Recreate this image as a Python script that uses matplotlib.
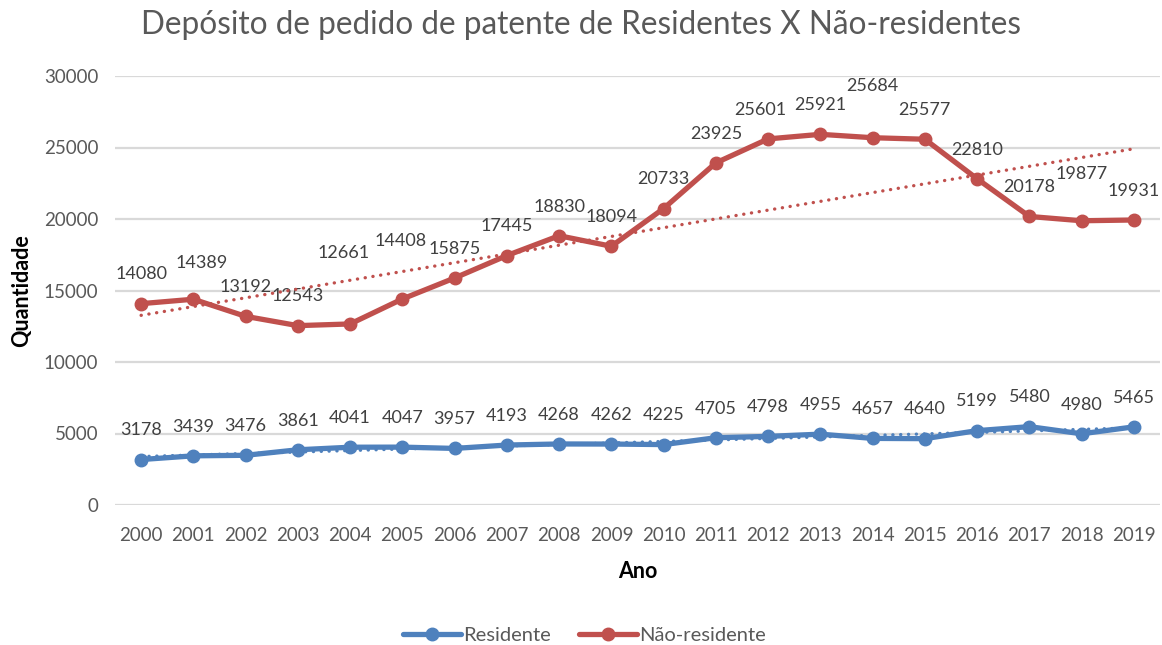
import numpy as np
import matplotlib.pyplot as plt

plt.rcParams['font.family'] = ['Lato', 'DejaVu Sans']

# dados
anos = list(range(2000, 2020))
residente = [3178, 3439, 3476, 3861, 4041, 4047, 3957, 4193, 4268, 4262,
             4225, 4705, 4798, 4955, 4657, 4640, 5199, 5480, 4980, 5465]
nao_residente = [14080, 14389, 13192, 12543, 12661, 14408, 15875, 17445, 18830, 18094,
                 20733, 23925, 25601, 25921, 25684, 25577, 22810, 20178, 19877, 19931]

azul = '#4F81BD'
vermelho = '#C0504D'
cinza = '#595959'

# deslocamento dos rótulos (pontos) que não ficam na posição padrão
ajuste_nres = {2001: (6, 26), 2004: (-5, 51), 2005: (-1, 42), 2012: (-6, 21),
               2014: (0, 37), 2018: (0, 34)}

fig = plt.figure(figsize=(11.62, 6.45), dpi=100)
ax = fig.add_axes([115 / 1162, 1 - 505 / 645, 1045 / 1162, 429 / 645])

ax.plot(anos, residente, color=azul, lw=3.8, marker='o', ms=9,
        label='Residente', zorder=3, solid_capstyle='round')
ax.plot(anos, nao_residente, color=vermelho, lw=3.8, marker='o', ms=9,
        label='Não-residente', zorder=3, solid_capstyle='round')

# linhas de tendência (linear)
x = np.array(anos)
for serie, cor in [(residente, azul), (nao_residente, vermelho)]:
    a, b = np.polyfit(x, serie, 1)
    ax.plot(x, a * x + b, color=cor, lw=2.4, ls=(0, (0.05, 2.3)),
            dash_capstyle='round', zorder=4)

for ano, v in zip(anos, residente):
    ax.annotate(str(v), (ano, v), xytext=(0, 21), textcoords='offset points',
                ha='center', va='center', fontsize=13, color='#404040')
for ano, v in zip(anos, nao_residente):
    dx, dy = ajuste_nres.get(ano, (0, 21))
    ax.annotate(str(v), (ano, v), xytext=(dx, dy), textcoords='offset points',
                ha='center', va='center', fontsize=13, color='#404040')

ax.set_xlim(1999.5, 2019.5)
ax.set_ylim(0, 30000)
ax.set_xticks(anos)
ax.set_yticks(range(0, 30001, 5000))
ax.grid(axis='y', color='#D9D9D9', lw=1.6)
ax.set_axisbelow(True)
for s in ax.spines.values():
    s.set_visible(False)
ax.tick_params(axis='both', length=0, labelsize=13.5, labelcolor=cinza)
ax.tick_params(axis='x', pad=16)
ax.tick_params(axis='y', pad=12)

ax.set_xlabel('Ano', fontsize=15.5, fontweight='bold', labelpad=12)
ax.set_ylabel('Quantidade', fontsize=15.5, fontweight='bold', labelpad=8)

fig.text(0.5, 1 - 25 / 645, 'Depósito de pedido de patente de Residentes X Não-residentes',
         ha='center', va='center', fontsize=22.7, color=cinza)

fig.legend(loc='center', bbox_to_anchor=(0.503, 1 - 635 / 645), ncol=2, frameon=False,
           fontsize=14.5, labelcolor=cinza, handlelength=2.9, handletextpad=0.1,
           columnspacing=1.4)

fig.savefig('out.png', dpi=100)
